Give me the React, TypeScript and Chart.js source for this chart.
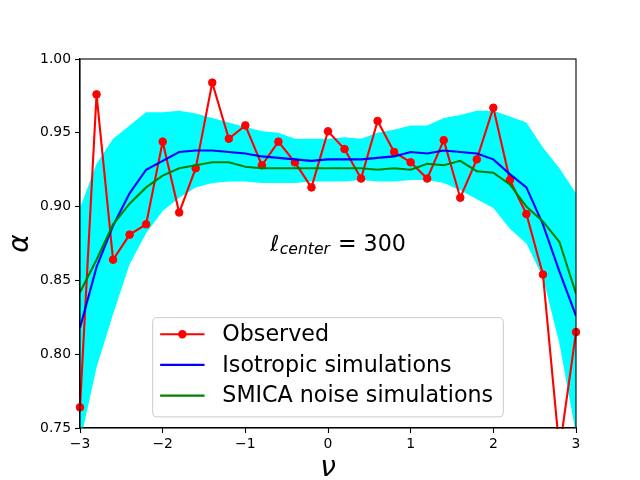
import React, { useEffect, useRef } from "react";
import { Chart, registerables } from "chart.js";

Chart.register(...registerables);

const nu = [-3, -2.8, -2.6, -2.4, -2.2, -2, -1.8, -1.6, -1.4, -1.2, -1, -0.8, -0.6, -0.4, -0.2, 0, 0.2, 0.4, 0.6, 0.8, 1, 1.2, 1.4, 1.6, 1.8, 2, 2.2, 2.4, 2.6, 2.8, 3];

const observed = [0.764, 0.976, 0.864, 0.881, 0.888, 0.944, 0.896, 0.926, 0.984, 0.946, 0.955, 0.928, 0.944, 0.930, 0.913, 0.951, 0.939, 0.919, 0.958, 0.937, 0.930, 0.919, 0.945, 0.906, 0.932, 0.967, 0.918, 0.895, 0.854, 0.735, 0.815];

const isotropic = [0.818, 0.859, 0.887, 0.909, 0.925, 0.931, 0.937, 0.938, 0.938, 0.937, 0.936, 0.934, 0.933, 0.932, 0.931, 0.932, 0.932, 0.932, 0.933, 0.934, 0.937, 0.936, 0.938, 0.937, 0.936, 0.932, 0.922, 0.913, 0.888, 0.856, 0.826];

const smica = [0.842, 0.864, 0.888, 0.902, 0.913, 0.921, 0.926, 0.928, 0.930, 0.930, 0.927, 0.926, 0.926, 0.926, 0.926, 0.926, 0.926, 0.926, 0.925, 0.926, 0.925, 0.929, 0.928, 0.931, 0.924, 0.923, 0.915, 0.900, 0.890, 0.876, 0.841];

const bandUpper = [0.899, 0.929, 0.946, 0.955, 0.964, 0.964, 0.965, 0.963, 0.960, 0.957, 0.954, 0.951, 0.950, 0.946, 0.946, 0.946, 0.947, 0.946, 0.950, 0.952, 0.955, 0.955, 0.960, 0.962, 0.965, 0.965, 0.961, 0.957, 0.940, 0.926, 0.909];

const bandLower = [0.740, 0.791, 0.827, 0.861, 0.882, 0.897, 0.906, 0.913, 0.916, 0.917, 0.917, 0.916, 0.916, 0.916, 0.917, 0.917, 0.917, 0.918, 0.917, 0.917, 0.918, 0.918, 0.916, 0.911, 0.905, 0.899, 0.885, 0.875, 0.852, 0.807, 0.746];

const yTicks = [0.75, 0.8, 0.85, 0.9, 0.95, 1.0];
const xTicks = [-3, -2, -1, 0, 1, 2, 3];

const seriesLabels = ["Observed", "Isotropic simulations", "SMICA noise simulations"];
const annotation = { x: -0.7, y: 0.87, symbol: "\u2113", sub: "center", rest: "= 300" };

const FONT = "'DejaVu Sans', 'Liberation Sans', sans-serif";

const pts = (vals: number[]) => nu.map((x, i) => ({ x, y: vals[i] }));

const framePlugin = {
  id: "frame",
  afterDatasetsDraw(chart: any) {
    const { ctx, chartArea: a } = chart;
    ctx.save();
    ctx.strokeStyle = "#000";
    ctx.lineWidth = 1.1;
    ctx.strokeRect(a.left, a.top, a.right - a.left, a.bottom - a.top);
    ctx.restore();
  },
};

const annotationPlugin = {
  id: "annot",
  afterDatasetsDraw(chart: any) {
    const { ctx, scales } = chart;
    const x0 = scales.x.getPixelForValue(annotation.x);
    const y0 = scales.y.getPixelForValue(annotation.y);
    ctx.save();
    ctx.fillStyle = "#000";
    ctx.textBaseline = "alphabetic";
    ctx.textAlign = "left";
    ctx.font = `italic 22.2px ${FONT}`;
    ctx.fillText(annotation.symbol, x0, y0);
    let x = x0 + ctx.measureText(annotation.symbol).width + 0.5;
    ctx.font = `italic 15.6px ${FONT}`;
    ctx.fillText(annotation.sub, x, y0 + 3.5);
    x += ctx.measureText(annotation.sub).width + 8;
    ctx.font = `22.2px ${FONT}`;
    ctx.fillText(annotation.rest, x, y0);
    ctx.restore();
  },
};

const legendPlugin = {
  id: "mplLegend",
  afterDatasetsDraw(chart: any) {
    const { ctx, chartArea: a } = chart;
    const fs = 22.2;
    const pad = 0.4 * fs;
    const handle = 2 * fs;
    const gap = 0.8 * fs;
    const rowH = 30.7;
    ctx.save();
    ctx.font = `${fs}px ${FONT}`;
    const tw = Math.max(...seriesLabels.map((l) => ctx.measureText(l).width));
    const w = pad * 2 + handle + gap + tw;
    const h = 99.3;
    const cx = (a.left + a.right) / 2;
    const left = cx - w / 2;
    const top = a.bottom - 0.5 * fs - h;
    ctx.beginPath();
    ctx.roundRect(left, top, w, h, 4);
    ctx.fillStyle = "rgba(255,255,255,0.8)";
    ctx.fill();
    ctx.strokeStyle = "#cccccc";
    ctx.lineWidth = 1;
    ctx.stroke();
    const ds = chart.data.datasets.filter((d: any) => seriesLabels.includes(d.label));
    seriesLabels.forEach((lab, i) => {
      const d = ds.find((q: any) => q.label === lab);
      const cy = top + 16.6 + i * rowH;
      const hx = left + 7.5;
      ctx.strokeStyle = d.borderColor;
      ctx.lineWidth = 2.1;
      ctx.beginPath();
      ctx.moveTo(hx, cy);
      ctx.lineTo(hx + handle, cy);
      ctx.stroke();
      if (d.pointRadius > 0) {
        ctx.fillStyle = d.borderColor;
        ctx.beginPath();
        ctx.arc(hx + handle / 2, cy, 4.2, 0, Math.PI * 2);
        ctx.fill();
      }
      ctx.fillStyle = "#000";
      ctx.textBaseline = "middle";
      ctx.fillText(lab, hx + handle + gap, cy + 1);
    });
    ctx.restore();
  },
};

export default function App() {
  const ref = useRef<HTMLCanvasElement>(null);
  useEffect(() => {
    document.body.style.margin = "0";
    const chart = new Chart(ref.current as HTMLCanvasElement, {
      type: "line",
      data: {
        datasets: [
          {
            label: "bandLower",
            data: pts(bandLower),
            borderWidth: 0,
            pointRadius: 0,
            fill: false,
            order: 10,
          },
          {
            label: "bandUpper",
            data: pts(bandUpper),
            borderWidth: 0,
            pointRadius: 0,
            backgroundColor: "#00ffff",
            fill: "-1",
            order: 9,
          },
          {
            label: seriesLabels[0],
            data: pts(observed),
            borderColor: "#ff0000",
            backgroundColor: "#ff0000",
            borderWidth: 2.1,
            pointRadius: 3.8,
            pointBorderWidth: 1,
            pointBackgroundColor: "#ff0000",
            pointBorderColor: "#ff0000",
            fill: false,
            order: 3,
            clip: { left: 6, right: 6, top: 6, bottom: 1 },
          },
          {
            label: seriesLabels[1],
            data: pts(isotropic),
            borderColor: "#0000ff",
            borderWidth: 2.1,
            pointRadius: 0,
            fill: false,
            order: 2,
          },
          {
            label: seriesLabels[2],
            data: pts(smica),
            borderColor: "#008000",
            borderWidth: 2.1,
            pointRadius: 0,
            fill: false,
            order: 1,
          },
        ] as any,
      },
      options: {
        animation: false,
        responsive: true,
        maintainAspectRatio: false,
        devicePixelRatio: 1,
        layout: { padding: { top: 59, right: 64, left: 0, bottom: 0 } },
        plugins: { legend: { display: false }, tooltip: { enabled: false } },
        elements: { line: { tension: 0 } },
        scales: {
          x: {
            type: "linear",
            min: -3,
            max: 3,
            afterFit: (s: any) => {
              s.height = 52;
            },
            afterBuildTicks: (s: any) => {
              s.ticks = xTicks.map((v) => ({ value: v }));
            },
            ticks: {
              color: "#000",
              font: { family: FONT, size: 13.9 },
              padding: 3,
              maxRotation: 0,
              callback: (v: any) => (v < 0 ? "\u2212" + Math.abs(v) : String(v)),
            },
            grid: { drawOnChartArea: false, drawTicks: true, tickLength: 5, color: "#000", tickWidth: 1.1 },
            border: { display: true, color: "#000", width: 1.1 },
            title: {
              display: true,
              text: "\u03bd",
              color: "#000",
              font: { family: FONT, size: 28, style: "italic", lineHeight: 0.8 },
              padding: { top: 0, bottom: 0 },
            },
          },
          y: {
            type: "linear",
            min: 0.75,
            max: 1.0,
            afterFit: (s: any) => {
              s.width = 80;
            },
            afterBuildTicks: (s: any) => {
              s.ticks = yTicks.map((v) => ({ value: v }));
            },
            ticks: {
              color: "#000",
              font: { family: FONT, size: 13.9 },
              padding: 4,
              callback: (v: any) => Number(v).toFixed(2),
            },
            grid: { drawOnChartArea: false, drawTicks: true, tickLength: 5, color: "#000", tickWidth: 1.1 },
            border: { display: true, color: "#000", width: 1.1 },
            title: {
              display: true,
              text: "\u03b1",
              color: "#000",
              font: { family: FONT, size: 28, style: "italic", lineHeight: 1 },
              padding: { top: 7, bottom: 0 },
            },
          },
        },
      } as any,
      plugins: [framePlugin, annotationPlugin, legendPlugin],
    });
    return () => chart.destroy();
  }, []);
  return (
    <div style={{ position: "relative", width: 640, height: 480 }}>
      <canvas ref={ref} />
    </div>
  );
}
